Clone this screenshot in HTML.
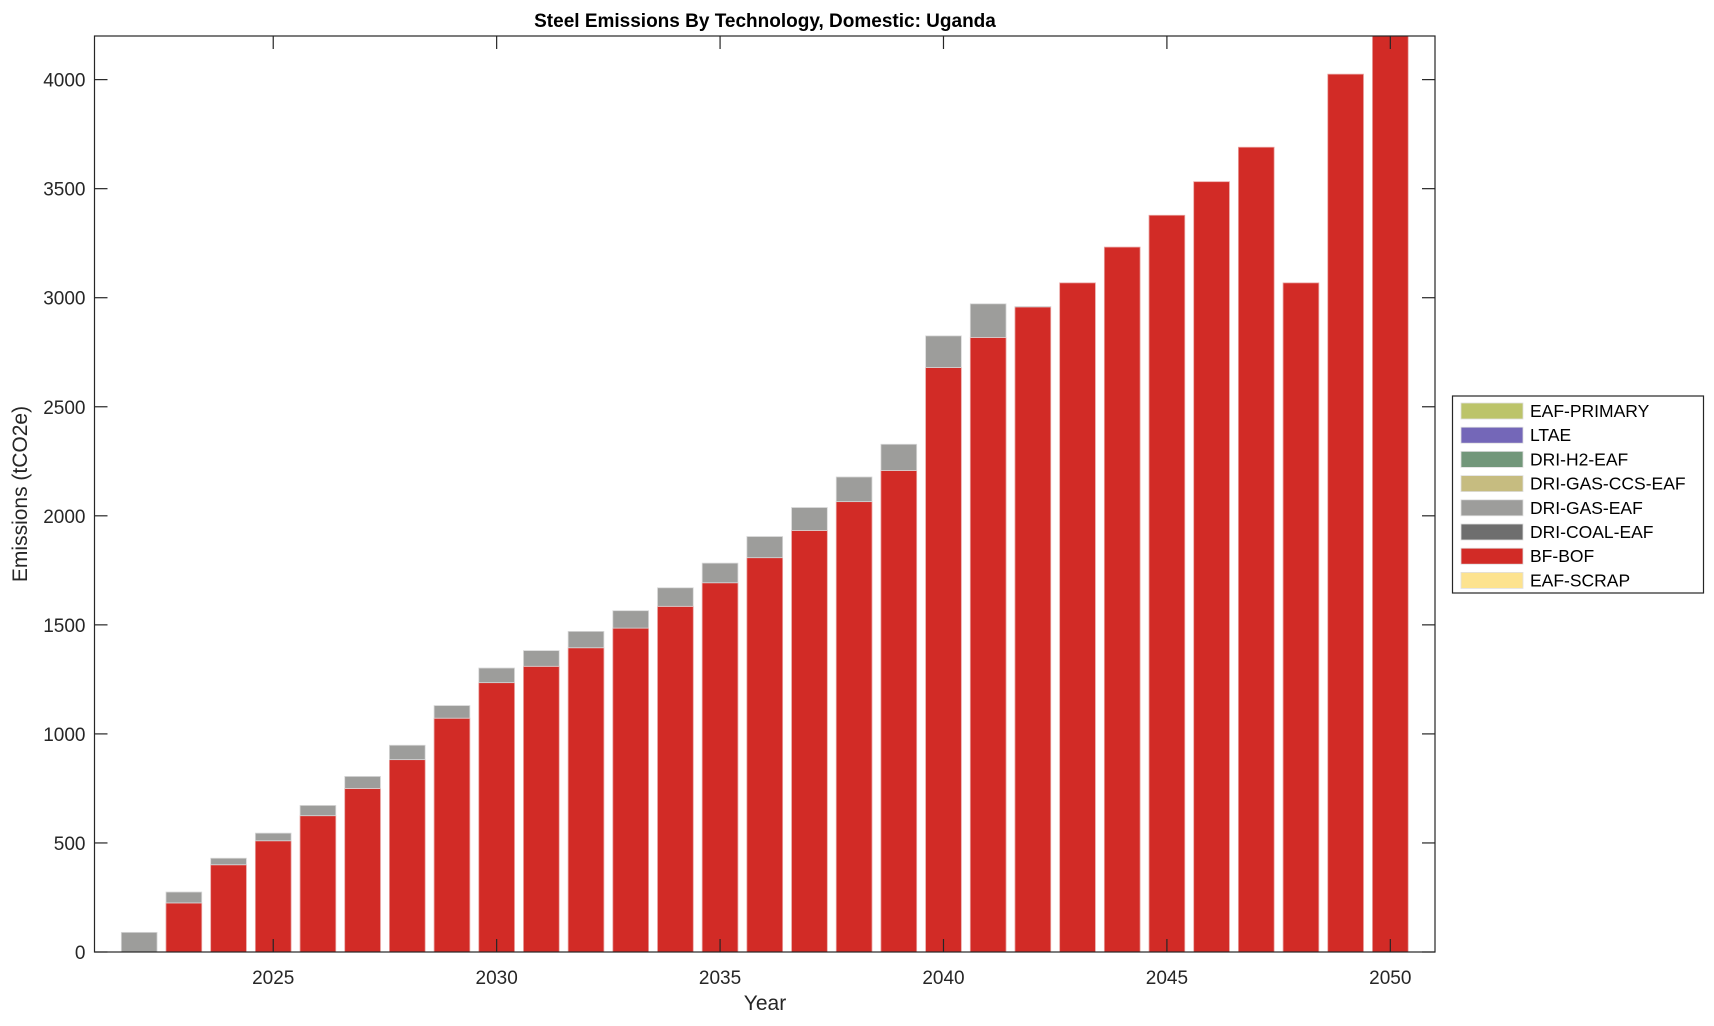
<!DOCTYPE html>
<html><head><meta charset="utf-8"><style>
body{margin:0;background:#fff;}
svg text{font-family:"Liberation Sans",sans-serif;fill:#262626;}
</style></head><body>
<svg id="chart" width="1714" height="1021" viewBox="0 0 1714 1021" xmlns="http://www.w3.org/2000/svg">
<rect width="1714" height="1021" fill="#fff"/>
<text x="765" y="27" text-anchor="middle" font-size="19" font-weight="bold" style="fill:#000">Steel Emissions By Technology, Domestic: Uganda</text>
<g id="bars"></g>
<g id="axes"></g>
<text x="765" y="1010" text-anchor="middle" font-size="21">Year</text>
<text transform="translate(27,494) rotate(-90)" text-anchor="middle" font-size="21">Emissions (tCO2e)</text>
<g id="legend"></g>
</svg>
<script>
const years=[2022,2023,2024,2025,2026,2027,2028,2029,2030,2031,2032,2033,2034,2035,2036,2037,2038,2039,2040,2041,2042,2043,2044,2045,2046,2047,2048,2049,2050];
const bfBof=[0,225,400,510,625,750,882,1072,1235,1310,1395,1485,1585,1693,1808,1933,2065,2208,2680,2818,2958,3068,3232,3378,3532,3690,3068,4025,4250];
const driGas=[90,50,30,35,47,55,66,58,67,72,75,80,85,90,97,105,113,120,145,154,2,0,0,0,0,0,0,0,0];
const yTicks=[0,500,1000,1500,2000,2500,3000,3500,4000];
const xTicks=[2025,2030,2035,2040,2045,2050];
const legendNames=["EAF-PRIMARY","LTAE","DRI-H2-EAF","DRI-GAS-CCS-EAF","DRI-GAS-EAF","DRI-COAL-EAF","BF-BOF","EAF-SCRAP"];
const legendColors=["#bcc46a","#7467b8","#72977a","#c6bc80","#9d9d9b","#6e6e6e","#d22b26","#fde38f"];
const L=94.5,R=1435,T=36,B=952,X0=2021,X1=2051,Y0=0,Y1=4200;
const sx=v=>L+(v-X0)/(X1-X0)*(R-L);
const sy=v=>B-(v-Y0)/(Y1-Y0)*(B-T);
const NS="http://www.w3.org/2000/svg";
function mk(t,a,p){const e=document.createElementNS(NS,t);for(const k in a)e.setAttribute(k,a[k]);p.appendChild(e);return e;}
const bars=document.getElementById('bars');
const cp=mk('clipPath',{id:'clip'},bars);
mk('rect',{x:L,y:T,width:R-L,height:B-T},cp);
const bg=mk('g',{'clip-path':'url(#clip)'},bars);
const bw=0.8*(sx(1)-sx(0));
years.forEach((yr,i)=>{
  const x=sx(yr)-bw/2;
  if(bfBof[i]>0){const r=mk('rect',{x:x,y:sy(bfBof[i]),width:bw,height:sy(0)-sy(bfBof[i]),fill:'#d22b26',stroke:'#e9a3a1','stroke-width':0.8},bg);
  
  }
  if(driGas[i]>0){const top=bfBof[i]+driGas[i];const r=mk('rect',{x:x,y:sy(top),width:bw,height:sy(bfBof[i])-sy(top),fill:'#9d9d9b',stroke:'#d8d8d8','stroke-width':0.8},bg);
  
  }
});
const ax=document.getElementById('axes');
mk('rect',{x:L,y:T,width:R-L,height:B-T,fill:'none',stroke:'#262626','stroke-width':1.2},ax);
yTicks.forEach(v=>{const y=sy(v);
  mk('line',{x1:L,x2:L+13,y1:y,y2:y,stroke:'#262626','stroke-width':1.2},ax);
  mk('line',{x1:R,x2:R-13,y1:y,y2:y,stroke:'#262626','stroke-width':1.2},ax);
  const t=mk('text',{x:L-9,y:y+7,'text-anchor':'end','font-size':19},ax);t.textContent=v;
  
  });
xTicks.forEach(v=>{const x=sx(v);
  mk('line',{x1:x,x2:x,y1:B,y2:B-13,stroke:'#262626','stroke-width':1.2},ax);
  mk('line',{x1:x,x2:x,y1:T,y2:T+13,stroke:'#262626','stroke-width':1.2},ax);
  const t=mk('text',{x:x,y:B+32,'text-anchor':'middle','font-size':19},ax);t.textContent=v;
  
  });
const lg=document.getElementById('legend');
mk('rect',{x:1452.5,y:396,width:251,height:197,fill:'#fff',stroke:'#262626','stroke-width':1.2},lg);
legendNames.forEach((n,i)=>{const cy=411+i*24.2;
  const g=mk('g',{},lg);
  
  
  mk('rect',{x:1461,y:cy-8,width:62,height:16,fill:legendColors[i],stroke:'#e0e0e0','stroke-width':0.8},g);
  const t=mk('text',{x:1530,y:cy+6,'font-size':17.5,style:'fill:#000'},g);t.textContent=n;});
</script>
</body></html>
